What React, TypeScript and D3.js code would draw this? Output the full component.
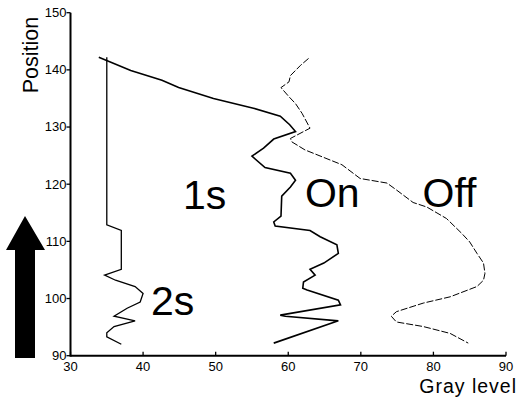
import React from "react";
import * as d3 from "d3";

const xTicks = [30, 40, 50, 60, 70, 80, 90];
const yTicks = [90, 100, 110, 120, 130, 140, 150];

// "1s" / "On" solid curve
const onGray = [33.9, 38.3, 42.6, 44.9, 49.7, 55.2, 58.9, 60.2, 61.0, 58.0, 56.6, 55.0, 56.8, 60.3, 61.0, 60.3, 59.1, 59.0, 58.0, 58.2, 63.0, 64.4, 66.7, 66.9, 64.9, 63.0, 63.7, 62.1, 62.0, 62.6, 66.9, 67.2, 58.9, 59.6, 66.9, 58.0];
const onPos = [142.2, 139.9, 138.2, 136.9, 135.0, 133.3, 131.9, 130.4, 129.2, 127.9, 126.3, 124.9, 122.9, 121.9, 120.7, 119.5, 117.9, 114.4, 113.4, 112.7, 111.9, 110.8, 109.4, 107.9, 106.2, 105.1, 104.1, 102.9, 101.8, 101.5, 99.7, 98.9, 97.1, 96.9, 96.1, 92.2];

// "Off" thin dashed curve
const offGray = [62.8, 61.7, 60.3, 60.1, 59.0, 60.1, 61.0, 61.9, 63.0, 60.3, 60.5, 62.3, 67.4, 69.9, 73.6, 74.9, 77.2, 79.1, 81.8, 83.9, 85.0, 86.0, 86.9, 87.1, 86.9, 86.0, 82.3, 78.6, 74.9, 74.2, 74.9, 78.6, 82.3, 84.8];
const offPos = [142.0, 140.8, 139.0, 137.9, 136.9, 135.3, 134.1, 132.4, 129.8, 128.0, 127.4, 126.0, 123.4, 121.0, 120.2, 119.0, 116.8, 116.0, 114.0, 111.4, 109.9, 107.9, 106.2, 104.4, 103.2, 102.1, 100.3, 99.2, 97.7, 96.9, 95.9, 95.1, 93.9, 92.2];

// "2s" curve
const twoGray = [35, 35, 37, 37, 34.7, 36.2, 38.9, 40, 39.6, 37.8, 36, 38.9, 36, 35, 35, 37];
const twoPos = [142.2, 112.9, 111.9, 105.1, 104.1, 103.2, 102.1, 100.9, 99.4, 98.3, 96.9, 96.1, 95.1, 94, 93.3, 92];

const labelTexts = ["1s", "On", "Off", "2s"];
const labelGray = [45.5, 62.3, 78.5, 41.1];
const labelPos = [115.7, 116.0, 116.0, 97.1];

export default function App() {
  const W = 516, H = 398;
  const x = d3.scaleLinear().domain([30, 90]).range([70.5, 506]);
  const y = d3.scaleLinear().domain([90, 150]).range([355.7, 12.7]);
  const line = d3
    .line<[number, number]>()
    .x((d) => x(d[0]))
    .y((d) => y(d[1]));
  const toPts = (g: number[], p: number[]) => g.map((v, i) => [v, p[i]] as [number, number]);
  const font = "'Liberation Sans', Arial, Helvetica, sans-serif";

  // arrow decoration
  const arrow = "M25,216 L45,250 L35,250 L35,358 L15,358 L15,250 L6,250 Z";

  return (
    <svg
      width={W}
      height={H}
      style={{ position: "absolute", left: 0, top: 0, background: "#fff" }}
      fontFamily={font}
    >
      <rect x={0} y={0} width={W} height={H} fill="#fff" />
      {/* axes */}
      <line x1={x(30)} x2={x(30)} y1={y(150)} y2={y(90) + 1} stroke="#000" strokeWidth={2} />
      <line x1={x(30)} x2={x(90)} y1={y(90)} y2={y(90)} stroke="#000" strokeWidth={2} />
      {yTicks.map((t) => (
        <g key={"y" + t}>
          <line x1={x(30) - 4} x2={x(30)} y1={y(t)} y2={y(t)} stroke="#000" strokeWidth={1.3} />
          <text x={x(30) - 4} y={y(t) + 1} textAnchor="end" fontSize={13} dominantBaseline="middle" fill="#000">
            {t}
          </text>
        </g>
      ))}
      {xTicks.map((t) => (
        <g key={"x" + t}>
          <line x1={x(t)} x2={x(t)} y1={y(90)} y2={y(90) - 4} stroke="#000" strokeWidth={1.3} />
          <text x={x(t)} y={y(90) + 15.5} textAnchor="middle" fontSize={13} fill="#000">
            {t}
          </text>
        </g>
      ))}
      <text transform={`translate(38,55) rotate(-90)`} textAnchor="middle" fontSize={21.5} fill="#000">
        Position
      </text>
      <text x={517} y={393} textAnchor="end" fontSize={19.5} letterSpacing={1} fill="#000">
        Gray level
      </text>

      {/* curves */}
      <path d={line(toPts(twoGray, twoPos)) || ""} fill="none" stroke="#000" strokeWidth={1.3} />
      <path d={line(toPts(onGray, onPos)) || ""} fill="none" stroke="#000" strokeWidth={1.6} />
      <path
        d={line(toPts(offGray, offPos)) || ""}
        fill="none"
        stroke="#000"
        strokeWidth={1}
        strokeDasharray="7 2"
      />

      {/* curve labels */}
      {labelTexts.map((t, i) => (
        <text key={t} x={x(labelGray[i])} y={y(labelPos[i])} textAnchor="start" fontSize={41} fill="#000">
          {t}
        </text>
      ))}

      <path d={arrow} fill="#000" />
    </svg>
  );
}
